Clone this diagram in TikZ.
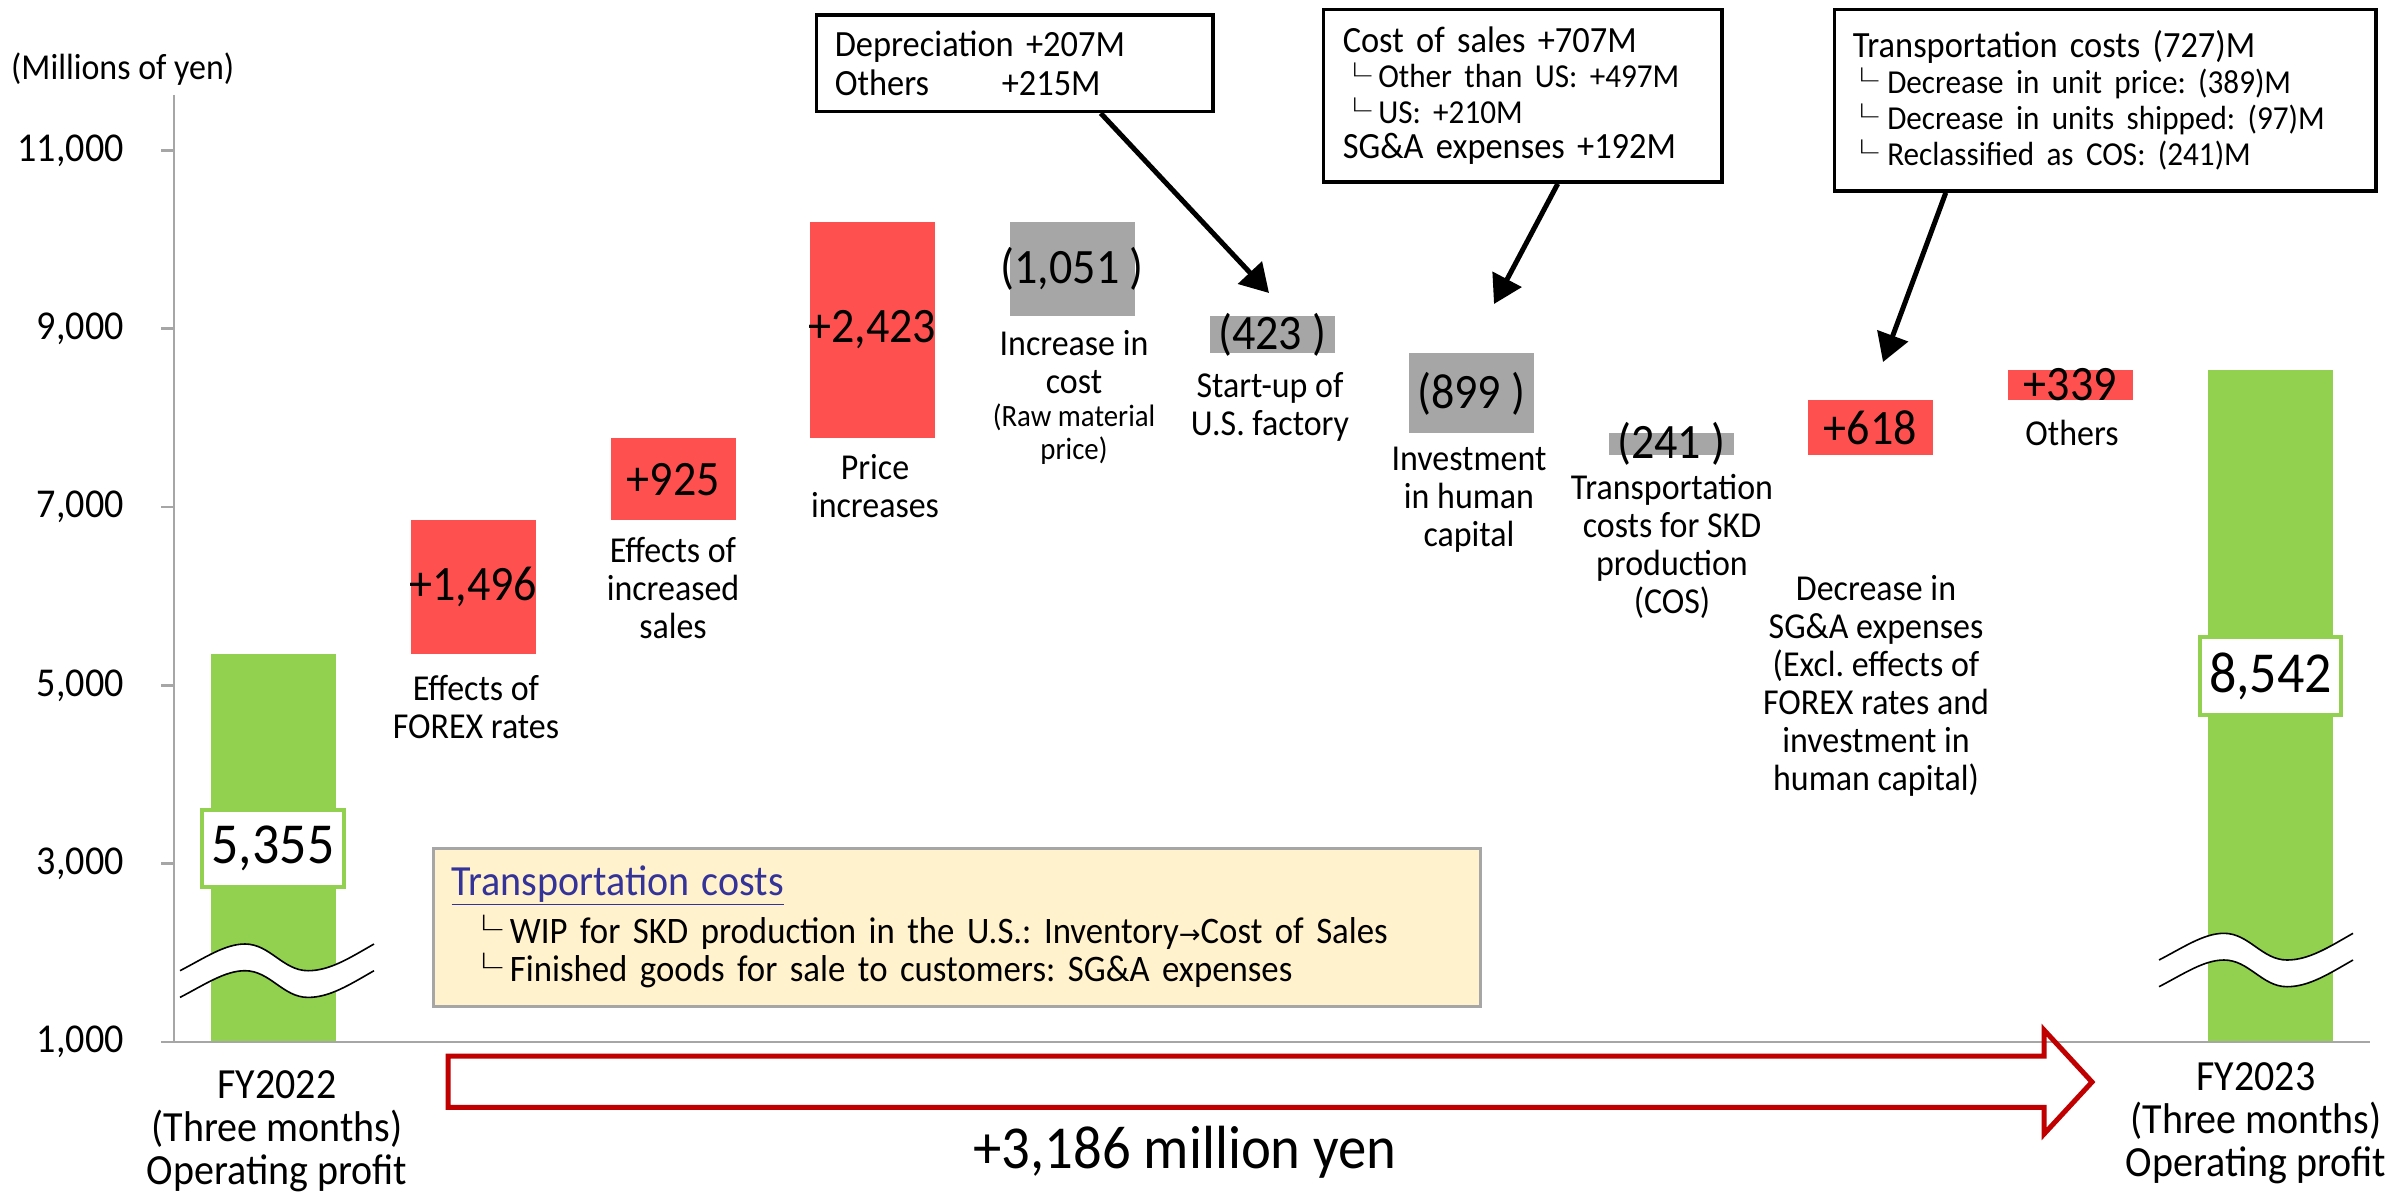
\documentclass[tikz,border=0pt]{standalone}
\usepackage{fontspec}
\usepackage{graphicx}
\setmainfont{Carlito}[FakeStretch=0.93]
\newfontfamily\symf{DejaVu Sans}
\newfontfamily\cjkf{Noto Sans CJK JP}
\usetikzlibrary{arrows.meta}
\definecolor{barred}{HTML}{FF5050}
\definecolor{bargray}{HTML}{A6A6A6}
\definecolor{bargreen}{HTML}{92D050}
\definecolor{axisgray}{HTML}{A6A6A6}
\definecolor{notefill}{HTML}{FFF2CC}
\definecolor{titleblue}{HTML}{333399}
\definecolor{arrowred}{HTML}{C00000}
\frenchspacing
\newcommand\fsz[2]{\fontsize{#1}{#2}\selectfont}
\newcommand\lsym{\raisebox{0.05em}{\scalebox{1}[0.8]{\cjkf └}}}
\newcommand\rarr{{\symf\fontsize{26}{26}\selectfont →}}
\newcommand\wfbar[5]{\node[#5, minimum height={(#3-#4)*0.08916}] (#1) at (#2,{1042-(#3-1000)*0.08916}) {};}
\begin{document}
\begin{tikzpicture}[x=1pt,y=-1pt,
  bar/.style={minimum width=124.5pt, inner sep=0pt, outer sep=0pt, anchor=north west},
  redbar/.style={bar, fill=barred},
  graybar/.style={bar, fill=bargray},
  greenbar/.style={bar, fill=bargreen},
  val/.style={inner sep=0pt, font=\fsz{49.5}{52}},
  lbl/.style={inner sep=0pt, anchor=north, align=center, font=\fsz{36.5}{38}},
  fylbl/.style={inner sep=0pt, anchor=north, align=center, font=\fsz{43}{43}},
  tick/.style={inner sep=0pt, anchor=east, font=\fsz{41}{44}},
  axisline/.style={draw=axisgray, line width=2.5pt},
  total/.style={draw=bargreen, line width=4pt, fill=white, inner sep=0pt, font=\fsz{58}{60}},
  callout/.style={draw=black, line width=3.5pt, fill=white, inner ysep=0pt, align=left, anchor=north west},
  pointer/.style={line width=5pt, -{Triangle[length=28pt,width=32pt]}},
  brk/.pic={
    \fill[white] (0,0) .. controls (25,-13) and (45,-26.7) .. (65,-26.7) .. controls (90,-26.7) and (103,0) .. (128,0) .. controls (150,0) and (170,-13) .. (194,-26.7) -- (194,0) .. controls (170,13.7) and (150,26.7) .. (128,26.7) .. controls (103,26.7) and (90,0) .. (65,0) .. controls (45,0) and (25,13.7) .. (0,26.7) -- cycle;
    \draw[line width=1.6pt] (0,0) .. controls (25,-13) and (45,-26.7) .. (65,-26.7) .. controls (90,-26.7) and (103,0) .. (128,0) .. controls (150,0) and (170,-13) .. (194,-26.7);
    \draw[line width=1.6pt] (0,26.7) .. controls (25,13.7) and (45,0) .. (65,0) .. controls (90,0) and (103,26.7) .. (128,26.7) .. controls (150,26.7) and (170,13.7) .. (194,0);
  }
]
\fill[white] (0,0) rectangle (2395,1196);
\useasboundingbox (0,0) rectangle (2395,1196);

% bars
\wfbar{fy22}{211}{5355}{1000}{greenbar}
\wfbar{b1}{411}{6851}{5355}{redbar}
\wfbar{b2}{611}{7776}{6851}{redbar}
\wfbar{b3}{810}{10199}{7776}{redbar}
\wfbar{b4}{1010}{10199}{9148}{graybar}
\wfbar{b5}{1210}{9148}{8725}{graybar}
\wfbar{b6}{1409}{8725}{7826}{graybar}
\wfbar{b7}{1609}{7826}{7585}{graybar}
\wfbar{b8}{1808}{8203}{7585}{redbar}
\wfbar{b9}{2008}{8542}{8203}{redbar}
\wfbar{fy23}{2208}{8542}{1000}{greenbar}

% breaks
\pic (brkA) at (180,970.7) {brk};
\pic (brkB) at (2159,960) {brk};

% totals
\node[total, minimum width=142pt, minimum height=77pt] (t22) at (273,848.5) {5,355};
\node[total, minimum width=141pt, minimum height=78pt] (t23) at (2270.5,676) {8,542};

% values
\node[val] (v1) at (b1.center) {+1,496};
\node[val] (v2) at (b2.center) {+925};
\node[val] (v3) at (b3.center) {+2,423};
\node[val] (v4) at (b4.center) {(1,051 )};
\node[val] (v5) at (b5.center) {(423 )};
\node[val] (v6) at (b6.center) {(899 )};
\node[val] (v7) at (b7.center) {(241 )};
\node[val] (v8) at (b8.center) {+618};
\node[val] (v9) at (b9.center) {+339};

% category labels
\node[fylbl] (l0) at (277,1070) {FY2022\\(Three months)\\Operating profit};
\node[lbl] (l1) at (476,675) {Effects of\\FOREX rates};
\node[lbl] (l2) at (673,537) {Effects of\\increased\\sales};
\node[lbl] (l3) at (875,454) {Price\\increases};
\node[lbl] (l4) at (1074,330) {Increase in\\cost\\[-5pt]{\fsz{31}{33}(Raw material}\\[-5pt]{\fsz{31}{33}price)}};
\node[lbl] (l5) at (1270,372) {Start-up of\\U.S. factory};
\node[lbl] (l6) at (1469,447) {Investment\\in human\\capital};
\node[lbl] (l7) at (1672,474) {Transportation\\costs for SKD\\production\\(COS)};
\node[lbl] (l8) at (1876,575) {Decrease in\\SG\&A expenses\\(Excl. effects of\\FOREX rates and\\investment in\\human capital)};
\node[lbl] (l9) at (2072,420) {Others};
\node[fylbl] (l10) at (2256,1062) {FY2023\\(Three months)\\Operating profit};

% note box
\node[draw=axisgray, line width=3pt, fill=notefill, anchor=north west,
      minimum width=1047pt, minimum height=158pt, inner xsep=18.5pt, inner ysep=0pt,
      text width=1010pt, align=left, font=\fsz{37.4}{38}] (note) at (431.5,846.5)
  {{\color{titleblue}\fsz{43}{48}\underline{Transportation costs}}\\[10pt]
   \hspace*{14pt}\lsym\hspace{7pt}WIP for SKD production in the U.S.: Inventory\rarr Cost of Sales\\
   \hspace*{14pt}\lsym\hspace{7pt}Finished goods for sale to customers: SG\&A expenses};

% axes
\draw[axisline] (174,95) -- (174,1042);
\draw[axisline] (161,1042) -- (2370,1042);
\foreach \v/\t in {1000/{1,000},3000/{3,000},5000/{5,000},7000/{7,000},9000/{9,000},11000/{11,000}}{
  \draw[axisline] (161,{1042-(\v-1000)*0.08916}) -- (174,{1042-(\v-1000)*0.08916});
  \node[tick] (tk\v) at (124,{1042-(\v-1000)*0.08916}) {\t};
}
\node[inner sep=0pt, anchor=west, font=\fsz{36.5}{38}] (unit) at (11,69) {(Millions of yen)};

% red block arrow
\draw[draw=arrowred, line width=5pt] (448,1056) -- (2044,1056) -- (2044,1030) -- (2092,1082) -- (2044,1134) -- (2044,1107.4) -- (448,1107.4) -- cycle;
\node[inner sep=0pt, font=\fsz{61}{64}] (diff) at (1185,1152) {+3,186 million yen};

% callouts
\node[callout, minimum width=396.5pt, minimum height=96.5pt, inner xsep=18.25pt, text width=360pt, font=\fsz{37}{38.5}] (cb1) at (814.75,13.25)
  {Depreciation +207M\\\makebox[167pt][l]{Others}+215M};
\node[callout, minimum width=398.5pt, minimum height=172.5pt, inner xsep=19.25pt, text width=360pt, font=\fsz{37}{35.5}] (cb2) at (1321.75,7.75)
  {Cost of sales +707M\\
   {\fsz{33.5}{35.5}\hspace*{-4pt}\lsym\hspace{6pt}Other than US: +497M}\\
   {\fsz{33.5}{35.5}\hspace*{-4pt}\lsym\hspace{6pt}US: +210M}\\
   SG\&A expenses +192M};
\node[callout, minimum width=541.5pt, minimum height=181.5pt, inner xsep=18.25pt, text width=505pt, font=\fsz{37}{36}] (cb3) at (1832.75,7.75)
  {Transportation costs (727)M\\
   {\fsz{33.5}{36}\hspace*{-7pt}\lsym\hspace{8pt}Decrease in unit price: (389)M}\\
   {\fsz{33.5}{36}\hspace*{-7pt}\lsym\hspace{8pt}Decrease in units shipped: (97)M}\\
   {\fsz{33.5}{36}\hspace*{-7pt}\lsym\hspace{8pt}Reclassified as COS: (241)M}};

\coordinate (tip1) at (1269,293);
\coordinate (tip2) at (1494,304);
\coordinate (tip3) at (1883,362);
\draw[pointer] ([xshift=286pt]cb1.south west) -- (tip1);
\draw[pointer] ([xshift=236pt]cb2.south west) -- (tip2);
\draw[pointer] ([xshift=113pt]cb3.south west) -- (tip3);
\end{tikzpicture}
\end{document}
